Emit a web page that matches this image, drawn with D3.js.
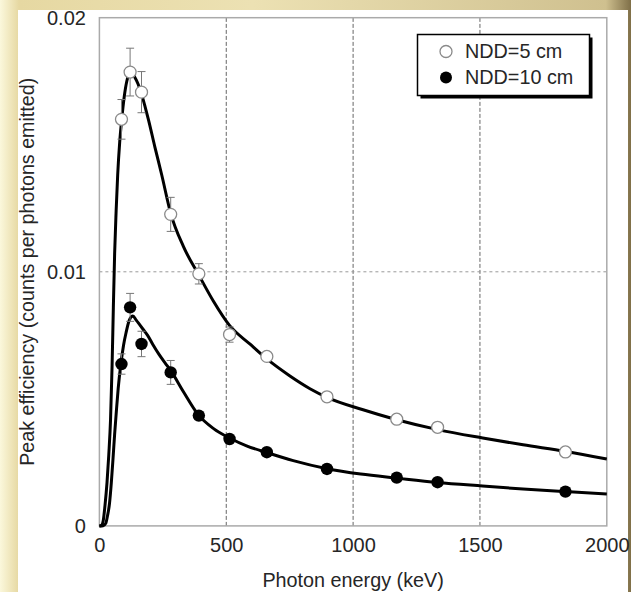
<!DOCTYPE html>
<html>
<head>
<meta charset="utf-8">
<script src="https://cdn.jsdelivr.net/npm/d3@7"></script>
<style>
  html, body { margin: 0; padding: 0; }
  svg { display: block; }
  text { font-family: "Liberation Sans", Arial, sans-serif; fill: #262626; }
</style>
</head>
<body>
<script>
// measured points (keV, counts per photon emitted)
const energies = [87, 121, 166, 281, 392, 513, 660, 897, 1172, 1333, 1837];
const eff5  = [0.0160, 0.01786, 0.01707, 0.01226, 0.00992, 0.00753, 0.00667, 0.00508, 0.00420, 0.00388, 0.00291];
const err5  = [0.00078, 0.00094, 0.00081, 0.00067, 0.0004, 0.0003, 0, 0, 0, 0, 0];
const eff10 = [0.00637, 0.0086, 0.00716, 0.00604, 0.00434, 0.00342, 0.0029, 0.00224, 0.0019, 0.00172, 0.00135];
const err10 = [0.0004, 0.00055, 0.0005, 0.00047, 0, 0, 0, 0, 0, 0, 0];

// fitted curves
const fitE5 = [0, 8, 15, 22, 30, 37, 44, 50, 55, 60, 66, 72, 80, 88, 98, 108, 118, 128, 140, 152, 166, 180, 193, 219, 246, 281, 331, 393, 449, 512, 594, 660, 751, 830, 899, 1036, 1172, 1334, 1511, 1670, 1837, 2000];
const fit5  = [0, 0.00002, 0.0002, 0.0008, 0.0017, 0.0028, 0.0042, 0.0063, 0.0086, 0.0107, 0.0124, 0.0138, 0.0151, 0.0160, 0.0169, 0.0175, 0.0178, 0.0178, 0.01765, 0.0174, 0.0170, 0.0165, 0.0160, 0.0149, 0.0138, 0.0123, 0.0110, 0.00985, 0.00885, 0.0079, 0.00715, 0.00657, 0.0059, 0.0054, 0.00505, 0.00458, 0.00418, 0.00379, 0.00346, 0.00319, 0.00293, 0.00263];
const fitE10 = [0, 15, 25, 32, 40, 47, 54, 60, 66, 74, 85, 95, 105, 118, 132, 145, 160, 175, 190, 210, 235, 260, 282, 330, 390, 450, 515, 580, 662, 764, 898, 1030, 1173, 1333, 1510, 1670, 1836, 2000];
const fit10  = [0, 0.00001, 0.0001, 0.0004, 0.0009, 0.0017, 0.0027, 0.0036, 0.0044, 0.0054, 0.0064, 0.0071, 0.0076, 0.0081, 0.00826, 0.0081, 0.0079, 0.0077, 0.0075, 0.00715, 0.00675, 0.0064, 0.0061, 0.0053, 0.00437, 0.00383, 0.00345, 0.00315, 0.00288, 0.00257, 0.00225, 0.00204, 0.00188, 0.00171, 0.00157, 0.00145, 0.00135, 0.00126];

const xTicks = [0, 500, 1000, 1500, 2000];
const yTicks = [0, 0.01, 0.02];
const yTickLabels = ["0", "0.01", "0.02"];
const legendLabels = ["NDD=5 cm", "NDD=10 cm"];

const W = 631, H = 592;
const margin = { top: 17.7, right: 24.2, bottom: 66.1, left: 99.4 };

const svg = d3.select("body").append("svg")
  .attr("width", W)
  .attr("height", H);

// slide background
const defs = svg.append("defs");
const bg = defs.append("linearGradient").attr("id", "bg");
[["0", "#fbf8dc"], ["0.03", "#e6d8a2"], ["0.4", "#ece1b3"], ["0.96", "#cfc08f"], ["1", "#7f6f48"]]
  .forEach(s => bg.append("stop").attr("offset", s[0]).attr("stop-color", s[1]));
svg.append("rect").attr("width", W).attr("height", H).attr("fill", "url(#bg)");
svg.append("rect").attr("x", 18).attr("y", 10).attr("width", 610).attr("height", H - 10).attr("fill", "#fff");

const x = d3.scaleLinear().domain([0, 2000]).range([margin.left, W - margin.right]);
const y = d3.scaleLinear().domain([0, 0.02]).range([H - margin.bottom, margin.top]);

// grid
svg.append("g").selectAll("line")
  .data(xTicks.slice(1, -1))
  .join("line")
    .attr("x1", d => x(d)).attr("x2", d => x(d))
    .attr("y1", y(0)).attr("y2", y(0.02))
    .attr("stroke", "#666").attr("stroke-width", 1)
    .attr("stroke-dasharray", "4,2");
svg.append("line")
  .attr("x1", x(0)).attr("x2", x(2000))
  .attr("y1", y(0.01)).attr("y2", y(0.01))
  .attr("stroke", "#999").attr("stroke-width", 1)
  .attr("stroke-dasharray", "3,3");

// frame
svg.append("rect")
  .attr("x", x(0)).attr("y", y(0.02))
  .attr("width", x(2000) - x(0)).attr("height", y(0) - y(0.02))
  .attr("fill", "none").attr("stroke", "#aaa").attr("stroke-width", 1.5);

// axes
const xAxis = svg.append("g")
  .attr("transform", `translate(0,${y(0)})`)
  .call(d3.axisBottom(x).tickValues(xTicks).tickSize(0).tickPadding(12).tickFormat(d3.format("d")));
const yAxis = svg.append("g")
  .attr("transform", `translate(${x(0)},0)`)
  .call(d3.axisLeft(y).tickValues(yTicks).tickSize(0).tickPadding(13.5).tickFormat((d, i) => yTickLabels[i]));
[xAxis, yAxis].forEach(g => {
  g.select(".domain").remove();
  g.selectAll("text").style("font-size", "20px").style("font-family", "'Liberation Sans', Arial, sans-serif").attr("fill", "#262626");
});

// titles
svg.append("text")
  .attr("x", x(1000)).attr("y", 587)
  .attr("text-anchor", "middle")
  .style("font-size", "19.8px")
  .text("Photon energy (keV)");
svg.append("text")
  .attr("transform", `translate(27.5,${(y(0) + y(0.02)) / 2}) rotate(-90)`)
  .attr("text-anchor", "middle")
  .attr("dy", "0.35em")
  .style("font-size", "19.7px")
  .text("Peak efficiency (counts per photons emitted)");

// fitted curves
const line = d3.line().x(d => x(d[0])).y(d => y(d[1])).curve(d3.curveMonotoneX);
svg.append("path")
  .datum(d3.zip(fitE5, fit5))
  .attr("d", line)
  .attr("fill", "none").attr("stroke", "#000").attr("stroke-width", 3);
svg.append("path")
  .datum(d3.zip(fitE10, fit10))
  .attr("d", line)
  .attr("fill", "none").attr("stroke", "#000").attr("stroke-width", 3);

// error bars
const bars = d3.zip(energies, eff5, err5).concat(d3.zip(energies, eff10, err10)).filter(d => d[2] > 0);
const eb = svg.append("g").attr("stroke", "#777").attr("stroke-width", 1).attr("fill", "none");
eb.selectAll("path")
  .data(bars)
  .join("path")
    .attr("d", d => {
      const cx = x(d[0]), t = y(d[1] + d[2]), b = y(d[1] - d[2]);
      return `M${cx - 4},${t}H${cx + 4}M${cx},${t}V${b}M${cx - 4},${b}H${cx + 4}`;
    });

// markers
svg.append("g").selectAll("circle")
  .data(d3.zip(energies, eff5))
  .join("circle")
    .attr("cx", d => x(d[0])).attr("cy", d => y(d[1])).attr("r", 6)
    .attr("fill", "#fff").attr("stroke", "#8a8a8a").attr("stroke-width", 1.3);
svg.append("g").selectAll("circle")
  .data(d3.zip(energies, eff10))
  .join("circle")
    .attr("cx", d => x(d[0])).attr("cy", d => y(d[1])).attr("r", 6.2)
    .attr("fill", "#000");

// legend
const lg = svg.append("g");
lg.append("rect").attr("x", 420.5).attr("y", 37.5).attr("width", 172).attr("height", 61).attr("fill", "#000");
lg.append("rect").attr("x", 417.5).attr("y", 34.5).attr("width", 172).attr("height", 61)
  .attr("fill", "#fff").attr("stroke", "#000").attr("stroke-width", 1.5);
lg.append("circle").attr("cx", 446).attr("cy", 51.5).attr("r", 6)
  .attr("fill", "#fff").attr("stroke", "#8a8a8a").attr("stroke-width", 1.3);
lg.append("circle").attr("cx", 446).attr("cy", 77.5).attr("r", 6).attr("fill", "#000");
lg.selectAll("text")
  .data(legendLabels)
  .join("text")
    .attr("x", 465).attr("y", (d, i) => 51.5 + i * 26)
    .attr("dy", "0.35em")
    .style("font-size", "19.8px")
    .text(d => d);
</script>
</body>
</html>
